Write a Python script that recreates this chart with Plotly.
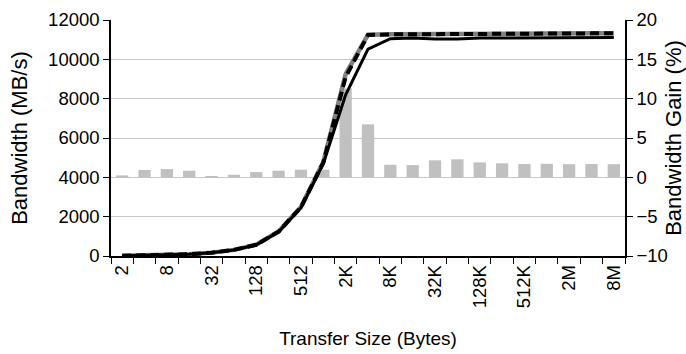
import plotly.graph_objects as go

# Transfer sizes 2 B .. 8 MB (powers of two)
sizes = ["2", "4", "8", "16", "32", "64", "128", "256", "512", "1K", "2K", "4K",
         "8K", "16K", "32K", "64K", "128K", "256K", "512K", "1M", "2M", "4M", "8M"]

# Bandwidth (MB/s) of the three configurations
bw_baseline = [10, 25, 49, 89, 170, 309, 566, 1230, 2456, 4700, 8200, 10520,
               11050, 11080, 11040, 11030, 11080, 11090, 11100, 11100, 11100, 11110, 11110]
bw_opt_a = [10, 25, 50, 90, 172, 312, 572, 1245, 2490, 4780, 9250, 11250,
            11280, 11290, 11295, 11295, 11300, 11305, 11310, 11310, 11315, 11320, 11320]
bw_opt_b = [10, 25, 50, 90, 170, 310, 570, 1240, 2480, 4750, 9100, 11240,
            11270, 11280, 11290, 11290, 11300, 11300, 11310, 11310, 11310, 11320, 11320]

# Bandwidth gain (%)
gain = [0.25, 0.93, 1.05, 0.84, 0.17, 0.33, 0.67, 0.84, 0.97, 0.97, 11.3, 6.74,
        1.6, 1.56, 2.16, 2.29, 1.9, 1.78, 1.69, 1.72, 1.67, 1.69, 1.67]

idx = list(range(len(sizes)))
label_idx = idx[::2]
label_txt = [sizes[i] for i in label_idx]

FONT = "Liberation Sans, Arial, sans-serif"
fsize = 18.5

fig = go.Figure()

# gain bars sit on the first (right-hand) axis so the lines draw over them
fig.add_trace(go.Bar(x=idx, y=gain, marker=dict(color="#c0c0c0", line=dict(width=0)),
                     width=0.55, yaxis="y", showlegend=False))

fig.add_trace(go.Scatter(x=idx, y=bw_opt_a, mode="lines", yaxis="y2",
                         line=dict(color="#808080", width=4.5), showlegend=False))
fig.add_trace(go.Scatter(x=idx, y=bw_opt_b, mode="lines", yaxis="y2",
                         line=dict(color="#000000", width=4, dash="9px,5px"), showlegend=False))
fig.add_trace(go.Scatter(x=idx, y=bw_baseline, mode="lines", yaxis="y2",
                         line=dict(color="#000000", width=3), showlegend=False))

fig.update_layout(
    width=686, height=354,
    margin=dict(l=111, r=61, t=20, b=98),
    paper_bgcolor="white", plot_bgcolor="white",
    font=dict(family=FONT, size=fsize, color="#000000"),
    bargap=0.45,
    xaxis=dict(
        automargin=False,
        range=[-0.5, len(sizes) - 0.5],
        tickmode="array", tickvals=label_idx, ticktext=label_txt,
        tickangle=-90, ticks="outside", ticklen=0, tickcolor="rgba(0,0,0,0)",
        showline=True, linecolor="#000000", linewidth=1.5,
        showgrid=False, zeroline=False,
        minor=dict(tickmode="linear", tick0=-0.5, dtick=1, ticks="outside",
                   ticklen=6, tickcolor="#000000", tickwidth=1.2, showgrid=False),
        title=dict(text="Transfer Size (Bytes)", standoff=24, font=dict(size=19)),
    ),
    yaxis=dict(
        automargin=False,
        side="right", range=[-10, 20], tickmode="linear", tick0=-10, dtick=5,
        ticks="outside", ticklen=6, tickwidth=1.2, tickcolor="#000000",
        showline=True, linecolor="#000000", linewidth=1.5,
        showgrid=True, gridcolor="#c8c8c8", gridwidth=1.2, zeroline=False,
        title=dict(text="Bandwidth Gain (%)", standoff=12),
    ),
    yaxis2=dict(
        automargin=False,
        overlaying="y", side="left", range=[0, 12000], tickmode="linear", tick0=0, dtick=2000,
        tickformat="d",
        ticks="outside", ticklen=6, tickwidth=1.2, tickcolor="#000000",
        showline=True, linecolor="#000000", linewidth=1.5,
        showgrid=False, zeroline=False,
        title=dict(text="Bandwidth (MB/s)", standoff=14),
    ),
)

fig.write_html("out.html")
